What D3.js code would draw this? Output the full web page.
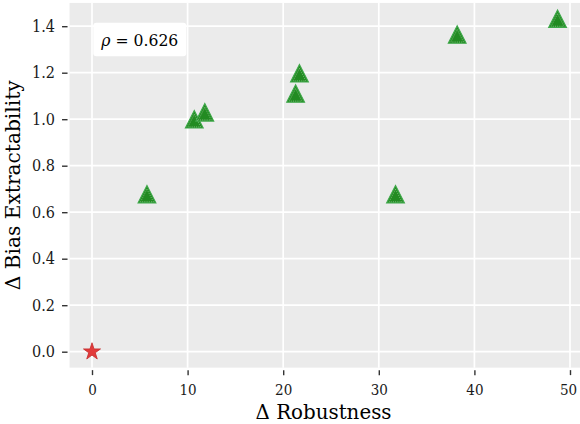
<!DOCTYPE html>
<html>
<head>
<meta charset="utf-8">
<script src="https://cdn.jsdelivr.net/npm/d3@7"></script>
<style>
  html, body { margin: 0; padding: 0; background: #fff; }
  svg { display: block; }
  svg text { font-family: "DejaVu Serif", "Liberation Serif", serif; }
</style>
</head>
<body>
<svg id="chart" width="580" height="424"></svg>
<script>
// ---- data ----
const robustness = [5.75, 10.7, 11.8, 21.3, 21.7, 31.75, 38.2, 48.7];
const biasExtract = [0.665, 0.987, 1.017, 1.098, 1.185, 0.665, 1.352, 1.42];
const baselineX = [0];
const baselineY = [0];
const xTicks = [0, 10, 20, 30, 40, 50];
const yTicks = [0, 0.2, 0.4, 0.6, 0.8, 1.0, 1.2, 1.4];
const rhoLabel = "0.626";
const labelPos = [5.0, 1.343];

const FONT = '"DejaVu Serif", "Liberation Serif", serif';
const svg = d3.select("#chart");
const x = d3.scaleLinear().domain([0, 50]).range([92, 570]);
const y = d3.scaleLinear().domain([0, 1.4]).range([351.7, 26.2]);

const xMin = x(-2.35), xMax = 580;
const yTop = y(1.5), yBot = y(-0.0685);

// panel
svg.append("rect").attr("x", xMin).attr("y", yTop)
  .attr("width", xMax - xMin).attr("height", yBot - yTop).attr("fill", "#EBEBEB");

// grid
const grid = svg.append("g").attr("stroke", "#fff").attr("stroke-width", 1.7);
grid.selectAll("line.v").data(xTicks).join("line")
  .attr("x1", d => x(d)).attr("x2", d => x(d)).attr("y1", yTop).attr("y2", yBot);
grid.selectAll("line.h").data(yTicks).join("line")
  .attr("y1", d => y(d)).attr("y2", d => y(d)).attr("x1", xMin).attr("x2", xMax);

// axes
const xAxis = d3.axisBottom(x).tickValues(xTicks).tickSize(5).tickPadding(9).tickFormat(d3.format("d"));
const gx = svg.append("g").attr("transform", `translate(0,${yBot + 2.5})`).call(xAxis);
const yAxis = d3.axisLeft(y).tickValues(yTicks).tickSize(5.5).tickPadding(7).tickFormat(d3.format(".1f"));
const gy = svg.append("g").attr("transform", `translate(${xMin - 2},0)`).call(yAxis);
[gx, gy].forEach(g => {
  g.attr("font-family", FONT);
  g.select(".domain").remove();
  g.selectAll(".tick line").attr("stroke", "#333").attr("stroke-width", 1.4);
  g.selectAll(".tick text").attr("fill", "#1a1a1a").attr("font-size", 16.5)
    .style("font-family", FONT);
});
gx.selectAll(".tick text").attr("font-size", 15.5).each(function(d, i, n) {
  const s = String(d).length;
  d3.select(this).attr("textLength", s * 8.6).attr("lengthAdjust", "spacingAndGlyphs")
    .attr("dx", i === n.length - 1 ? -2 : 0);
});
gy.selectAll(".tick text").attr("textLength", 23).attr("lengthAdjust", "spacingAndGlyphs");

// axis titles
svg.append("text").attr("x", 323.5).attr("y", 419)
  .attr("text-anchor", "middle").attr("font-size", 20).attr("fill", "#000")
  .style("font-family", FONT)
  .attr("textLength", 136).attr("lengthAdjust", "spacingAndGlyphs")
  .text("Δ Robustness");
svg.append("text").attr("transform", `translate(20,${(yTop + yBot) / 2}) rotate(-90)`)
  .attr("text-anchor", "middle").attr("font-size", 20).attr("fill", "#000")
  .style("font-family", FONT)
  .attr("textLength", 210).attr("lengthAdjust", "spacingAndGlyphs")
  .text("Δ Bias Extractability");

// correlation label
const lx = x(labelPos[0]), ly = y(labelPos[1]);
svg.append("rect").attr("x", lx - 46.5).attr("y", ly - 16.8).attr("width", 93).attr("height", 33.5)
  .attr("rx", 3).attr("fill", "#fff");
const lt = svg.append("text").attr("x", lx).attr("y", ly + 6.3)
  .attr("text-anchor", "middle").attr("font-size", 17).attr("fill", "#000")
  .style("font-family", FONT)
  .attr("textLength", 77).attr("lengthAdjust", "spacingAndGlyphs");
lt.append("tspan").attr("font-style", "italic").text("ρ");
lt.append("tspan").text(" = " + rhoLabel);

// triangle symbol (centroid centered)
const tri = {
  draw(ctx, size) {
    const h = Math.sqrt(size);
    const w = h * 1.02;
    ctx.moveTo(0, -2 * h / 3);
    ctx.lineTo(w / 2, h / 3);
    ctx.lineTo(-w / 2, h / 3);
    ctx.closePath();
  }
};
const pts = robustness.map((r, i) => ({ r, b: biasExtract[i] }));
const gp = svg.append("g");
gp.selectAll("path.tri").data(pts).join("path")
  .attr("transform", d => `translate(${x(d.r)},${y(d.b)})`)
  .attr("d", d3.symbol().type(tri).size(17.5 * 17.5))
  .attr("fill", "#228B22").attr("stroke", "#3fa84a").attr("stroke-width", 1.1)
  .attr("stroke-linejoin", "miter");
gp.selectAll("path.inner").data(pts).join("path")
  .attr("transform", d => `translate(${x(d.r)},${y(d.b) + 0.5})`)
  .attr("d", d3.symbol().type(tri).size(12.5 * 12.5))
  .attr("fill", "none").attr("stroke", "#ffffff").attr("stroke-opacity", 0.55)
  .attr("stroke-width", 0.7).attr("stroke-dasharray", "1 1.2");

// baseline star
const base = baselineX.map((v, i) => ({ r: v, b: baselineY[i] }));
svg.append("g").selectAll("path").data(base).join("path")
  .attr("transform", d => `translate(${x(d.r)},${y(d.b)})`)
  .attr("d", d3.symbol().type(d3.symbolStar).size(90))
  .attr("fill", "#E23B3B").attr("stroke", "#C42A2A").attr("stroke-width", 0.8);
</script>
</body>
</html>
